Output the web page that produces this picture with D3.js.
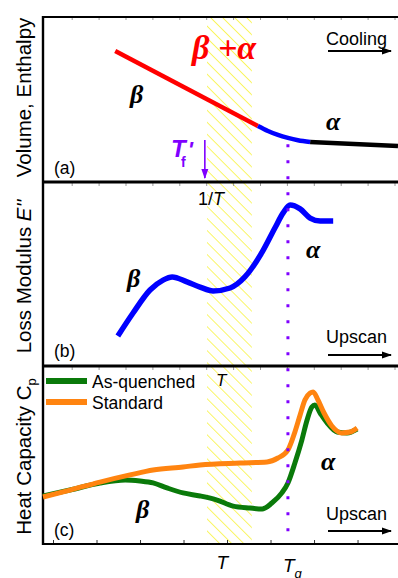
<!DOCTYPE html>
<html>
<head>
<meta charset="utf-8">
<script src="https://cdn.jsdelivr.net/npm/d3@7"></script>
<style>
  html, body { margin: 0; padding: 0; background: #fff; }
  svg { display: block; font-family: "Liberation Sans", Arial, sans-serif; }
</style>
</head>
<body>
<div id="chart"></div>
<script>
// temperature axis in arbitrary units, each panel y in arbitrary units (0..10)
const enthalpyBetaX = [14.3, 47.1];
const enthalpyBetaY = [7.94, 3.39];
const enthalpyMixX = [47.1, 49.4, 51.7, 54.0, 56.3, 59.1];
const enthalpyMixY = [3.39, 3.09, 2.85, 2.67, 2.53, 2.42];
const enthalpyAlphaX = [59.1, 79.3];
const enthalpyAlphaY = [2.42, 2.18];

const lossX = [14.9, 18.4, 22.3, 25.3, 27.4, 30.8, 33.8, 36.8, 40.7, 44.1, 48.1, 51.0, 52.9, 54.5, 56.8, 59.1, 61.4, 64.4];
const lossY = [1.63, 2.88, 4.13, 4.67, 4.84, 4.57, 4.29, 4.08, 4.24, 4.84, 6.20, 7.50, 8.32, 8.75, 8.54, 8.04, 7.88, 7.88];

const standardX = [-2.3, 3.9, 10.8, 17.7, 23.0, 29.9, 33.8, 43.0, 49.2, 51.7, 54.0, 55.6, 56.8, 57.9, 59.1, 59.8, 60.9, 62.3, 64.1, 66.4, 68.3, 69.9];
const standardY = [2.64, 3.03, 3.48, 3.88, 4.16, 4.33, 4.44, 4.55, 4.61, 4.83, 5.28, 6.29, 7.25, 8.09, 8.48, 8.54, 8.09, 7.36, 6.63, 6.24, 6.29, 6.52];
const quenchedX = [-2.3, 3.9, 10.8, 16.6, 20.0, 23.0, 26.2, 29.9, 33.8, 37.7, 41.4, 45.3, 48.1, 50.3, 52.6, 54.0, 55.6, 57.2, 58.4, 59.5, 60.2, 61.4, 63.0, 65.3, 67.6, 69.9];
const quenchedY = [2.70, 3.03, 3.43, 3.60, 3.54, 3.43, 3.15, 2.87, 2.70, 2.47, 2.13, 2.02, 1.97, 2.30, 2.87, 3.43, 4.55, 5.84, 6.97, 7.70, 7.81, 7.36, 6.80, 6.29, 6.24, 6.46];

const legendLabels = ["As-quenched", "Standard"];
const yLabels = ["Volume, Enthalpy", "Loss Modulus ", "Heat Capacity C"];
const panelTags = ["(a)", "(b)", "(c)"];
const arrowLabels = ["Cooling", "Upscan", "Upscan"];

const tgValue = 54.0;      // glass transition
const tValue = 38.9;       // aging temperature label
const tfValue = 34.9;      // fictive temperature arrow
const hatchRange = [35.4, 45.7];

const W = 398, H = 578;
const colors = { red: "#ff0000", blue: "#0000ff", green: "#0a7a0a", orange: "#ff8410", purple: "#7f00ff", yellow: "#f5f000" };

const svg = d3.select("#chart").append("svg")
  .attr("width", W).attr("height", H);

const x = d3.scaleLinear().domain([-2.3, 79.3]).range([43, 398]);
const xTop = d3.scaleLinear().domain([-0.067, 13.13]).range([43, 398]);
const yA = d3.scaleLinear().domain([0, 10]).range([182, 17]);
const yB = d3.scaleLinear().domain([0, 10]).range([366, 182]);
const yC = d3.scaleLinear().domain([0, 10]).range([544, 366]);

const zip = (xs, ys) => xs.map((v, i) => [v, ys[i]]);

// hatch pattern
const defs = svg.append("defs");
defs.append("pattern")
  .attr("id", "hatch")
  .attr("patternUnits", "userSpaceOnUse")
  .attr("width", 8.5).attr("height", 8.5)
  .attr("patternTransform", "rotate(-45)")
  .append("line")
  .attr("x1", 0).attr("y1", 0).attr("x2", 0).attr("y2", 8.5)
  .attr("stroke", colors.yellow).attr("stroke-width", 1.2);

function addMarker(id, color) {
  defs.append("marker")
    .attr("id", id)
    .attr("viewBox", "0 0 10 10")
    .attr("refX", 9).attr("refY", 5)
    .attr("markerWidth", 10).attr("markerHeight", 10)
    .attr("markerUnits", "userSpaceOnUse")
    .attr("orient", "auto")
    .append("path")
    .attr("d", "M0,1.5 L10,5 L0,8.5 Z")
    .attr("fill", color);
}
addMarker("arrowBlack", "#000");
addMarker("arrowPurple", colors.purple);

svg.append("rect")
  .attr("x", x(hatchRange[0]))
  .attr("width", x(hatchRange[1]) - x(hatchRange[0]))
  .attr("y", yA.range()[1])
  .attr("height", yC.range()[0] - yA.range()[1])
  .attr("fill", "url(#hatch)");

// ticks
function topTicks(y) {
  svg.append("g")
    .attr("transform", "translate(0," + y + ")")
    .call(d3.axisBottom(xTop).tickValues(d3.range(1, 14)).tickSize(3).tickFormat(""))
    .call(g => g.select(".domain").remove())
    .call(g => g.selectAll("line").attr("stroke", "#999"));
}
topTicks(17);
topTicks(183);
topTicks(367);

svg.append("g")
  .attr("transform", "translate(0,544)")
  .call(d3.axisTop(x).tickValues(d3.range(0, 80, 10)).tickSize(4).tickFormat(""))
  .call(g => g.select(".domain").remove())
  .call(g => g.selectAll("line").attr("stroke", "#333"));

// frame
svg.append("line").attr("x1", 43).attr("x2", 43).attr("y1", 16).attr("y2", 545)
  .attr("stroke", "#000").attr("stroke-width", 2.4);
[[17, 2.2], [182, 3], [366, 3], [544, 2.2]].forEach(([y, w]) => {
  svg.append("line").attr("x1", 42).attr("x2", W).attr("y1", y).attr("y2", y)
    .attr("stroke", "#000").attr("stroke-width", w);
});

// curves
function drawLine(data, yScale, color, width, curve) {
  const line = d3.line()
    .x(d => x(d[0]))
    .y(d => yScale(d[1]))
    .curve(curve || d3.curveLinear);
  svg.append("path")
    .attr("d", line(data))
    .attr("fill", "none")
    .attr("stroke", color)
    .attr("stroke-width", width)
    .attr("stroke-linejoin", "round");
}

drawLine(zip(enthalpyBetaX, enthalpyBetaY), yA, colors.red, 4.5);
drawLine(zip(enthalpyAlphaX, enthalpyAlphaY), yA, "#000", 4.5);
drawLine(zip(enthalpyMixX, enthalpyMixY), yA, colors.blue, 4.5, d3.curveMonotoneX);

drawLine(zip(lossX, lossY), yB, colors.blue, 5.5, d3.curveMonotoneX);

drawLine(zip(quenchedX, quenchedY), yC, colors.green, 5, d3.curveMonotoneX);
drawLine(zip(standardX, standardY), yC, colors.orange, 5, d3.curveMonotoneX);

// Tg dotted line
svg.append("line")
  .attr("x1", x(tgValue)).attr("x2", x(tgValue))
  .attr("y1", 144.2).attr("y2", 535)
  .attr("stroke", colors.purple).attr("stroke-width", 3)
  .attr("stroke-dasharray", "3 13");

// T'f arrow
svg.append("line")
  .attr("x1", x(tfValue)).attr("x2", x(tfValue))
  .attr("y1", yA(2.55)).attr("y2", yA(0.24))
  .attr("stroke", colors.purple).attr("stroke-width", 1.6)
  .attr("marker-end", "url(#arrowPurple)");

// y labels
const yCenters = [97.5, 276.5, 456.5];
yLabels.forEach((lab, i) => {
  const t = svg.append("text")
    .attr("transform", "translate(31," + yCenters[i] + ") rotate(-90)")
    .attr("text-anchor", "middle")
    .attr("font-size", 20.5)
    .text(lab);
  if (i === 1) t.append("tspan").attr("font-style", "italic").text("E''");
  if (i === 2) t.append("tspan").attr("font-size", 13).attr("dy", 5).text("p");
});

// panel tags and direction arrows
const tagBaselines = [174, 357, 536];
panelTags.forEach((tag, i) => {
  svg.append("text").attr("x", 54).attr("y", tagBaselines[i])
    .attr("font-size", 17.5).text(tag);
});
const arrowTextY = [45, 343, 520];
const arrowLineY = [51, 355, 531];
arrowLabels.forEach((lab, i) => {
  svg.append("text").attr("x", 326).attr("y", arrowTextY[i])
    .attr("font-size", 18).text(lab);
  svg.append("line")
    .attr("x1", 328).attr("x2", 391)
    .attr("y1", arrowLineY[i]).attr("y2", arrowLineY[i])
    .attr("stroke", "#000").attr("stroke-width", 2)
    .attr("marker-end", "url(#arrowBlack)");
});

// greek labels
const greek = svg.append("g")
  .attr("font-family", "'Liberation Serif', 'DejaVu Serif', serif")
  .attr("font-weight", "bold")
  .attr("font-style", "italic");
greek.append("text").attr("x", 192).attr("y", 59).attr("font-size", 34)
  .attr("fill", colors.red).text("β +α");
[[130, 103, "β"], [326, 130, "α"], [127, 287, "β"], [306, 258, "α"], [136, 518, "β"], [321, 470, "α"]]
  .forEach(([px, py, s]) => {
    greek.append("text").attr("x", px).attr("y", py).attr("font-size", 26).text(s);
  });

// T'f label
const tf = svg.append("text")
  .attr("x", 171).attr("y", 157)
  .attr("fill", colors.purple)
  .attr("font-weight", "bold").attr("font-style", "italic")
  .attr("font-size", 24);
tf.append("tspan").text("T");
tf.append("tspan").attr("font-size", 22).attr("dx", 2).text("'");
svg.append("text").attr("x", 181).attr("y", 167)
  .attr("fill", colors.purple).attr("font-weight", "bold")
  .attr("font-size", 14).text("f");

// 1/T and T labels
const invT = svg.append("text").attr("x", 198).attr("y", 205).attr("font-size", 18);
invT.append("tspan").text("1/");
invT.append("tspan").attr("font-style", "italic").text("T");
svg.append("text").attr("x", 216).attr("y", 386).attr("font-size", 17)
  .attr("font-style", "italic").text("T");

// legend
const legendColors = [colors.green, colors.orange];
legendLabels.forEach((lab, i) => {
  const ly = 381 + i * 21;
  svg.append("line").attr("x1", 46).attr("x2", 87).attr("y1", ly).attr("y2", ly)
    .attr("stroke", legendColors[i]).attr("stroke-width", 6);
  svg.append("text").attr("x", 92).attr("y", ly + 6.5)
    .attr("font-size", 17.5).text(lab);
});

// bottom labels
svg.append("text").attr("x", x(tValue)).attr("y", 569)
  .attr("text-anchor", "middle").attr("font-size", 19)
  .attr("font-style", "italic").text("T");
const tg = svg.append("text").attr("x", x(tgValue) - 5).attr("y", 572)
  .attr("font-size", 19).attr("font-style", "italic");
tg.append("tspan").text("T");
tg.append("tspan").attr("font-size", 13).attr("dy", 6).text("g");
</script>
</body>
</html>
